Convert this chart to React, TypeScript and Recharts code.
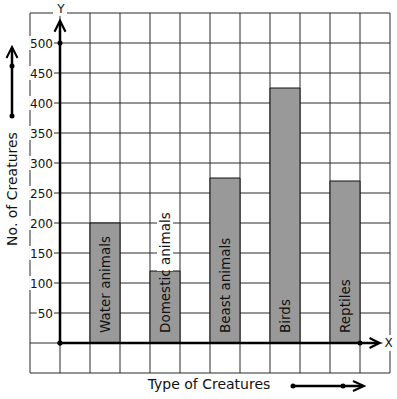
import { BarChart, Bar, XAxis, YAxis, CartesianGrid, LabelList } from "recharts";

const categories = ["Water animals", "Domestic animals", "Beast animals", "Birds", "Reptiles"];
const counts = [200, 120, 275, 425, 270];
const yDomain = [-50, 550];
const yTicks = [-50, 0, 50, 100, 150, 200, 250, 300, 350, 400, 450, 500, 550];
const yLabels = [50, 100, 150, 200, 250, 300, 350, 400, 450, 500];

const data = categories.map((name, i) => ({ name, count: counts[i] }));

const FONT = "DejaVu Sans";
const INK = "#111";
const COLS = 12; // grid is square: 12 x 12 cells

let ctx: CanvasRenderingContext2D | null = null;
function textWidth(s: string, size: number) {
  if (!ctx) ctx = document.createElement("canvas").getContext("2d");
  if (!ctx) return s.length * size * 0.6;
  ctx.font = `${size}px "${FONT}"`;
  return ctx.measureText(s).width;
}

function YTick({ x, y, payload }: any) {
  if (!yLabels.includes(payload.value)) return null;
  const label = String(payload.value);
  const w = textWidth(label, 12);
  const right = x + 23;
  return (
    <g>
      <rect x={right - w - 1} y={y - 7} width={w + 2} height={14} fill="#fff" />
      <text x={right} y={y} dy={4.5} textAnchor="end" fontSize={12} fontFamily={FONT} fill={INK}>
        {label}
      </text>
    </g>
  );
}

function BarText({ x, y, width, height, value }: any) {
  const cx = x + width / 2;
  const bottom = y + height - 10;
  const w = textWidth(String(value), 13.5);
  const top = bottom - w;
  return (
    <g>
      {top < y && <rect x={cx - 8} y={top - 1} width={16} height={y - top + 1} fill="#fff" />}
      <text
        transform={`translate(${cx},${bottom}) rotate(-90)`}
        dy="0.36em"
        fontSize={13.5}
        fontFamily={FONT}
        fill={INK}
      >
        {value}
      </text>
    </g>
  );
}

// y axis side: title, little arrow, and the drawn Y axis with its arrow head
function YOverlay({ viewBox }: any) {
  const left = viewBox.x + viewBox.width;
  const top = viewBox.y;
  const h = viewBox.height;
  const cell = h / (yTicks.length - 1);
  const yPx = (v: number) => top + ((yDomain[1] - v) / (yDomain[1] - yDomain[0])) * h;
  const axisX = left + cell;
  const tx = left - 18;
  const tip = yPx(537);
  return (
    <g>
      <text
        transform={`translate(${tx},${top + h / 2 - 4}) rotate(-90)`}
        textAnchor="middle"
        dy="0.36em"
        fontSize={14}
        fontFamily={FONT}
        fill={INK}
      >
        No. of Creatures
      </text>
      <line x1={tx} y1={top + 103} x2={tx} y2={top + 35} stroke="#000" strokeWidth={2.5} />
      <path
        d={`M${tx - 5.5},${top + 45} L${tx},${top + 34} L${tx + 5.5},${top + 45}`}
        fill="none"
        stroke="#000"
        strokeWidth={2}
      />
      <circle cx={tx} cy={top + 53} r={2.5} fill="#000" />
      <circle cx={tx} cy={top + 103} r={2.5} fill="#000" />

      <line x1={axisX} y1={yPx(0)} x2={axisX} y2={tip + 1} stroke="#000" strokeWidth={2.5} />
      <path
        d={`M${axisX - 5.5},${tip + 11} L${axisX},${tip} L${axisX + 5.5},${tip + 11}`}
        fill="none"
        stroke="#000"
        strokeWidth={2.2}
      />
      <rect x={axisX - 7} y={tip - 19} width={14} height={14} fill="#fff" />
      <text x={axisX + 1} y={tip - 12} dy="0.36em" textAnchor="middle" fontSize={12} fontFamily={FONT} fill={INK}>
        Y
      </text>
      <circle cx={axisX} cy={yPx(500)} r={2.5} fill="#000" />
      <circle cx={axisX} cy={yPx(0)} r={2.5} fill="#000" />
    </g>
  );
}

// x axis side: title, little arrow, and the drawn X axis with its arrow head
function XOverlay({ viewBox }: any) {
  const left = viewBox.x;
  const cell = viewBox.width / COLS;
  const axisY = viewBox.y - cell;
  const ay = viewBox.y + 13;
  const tip = left + 11.65 * cell;
  return (
    <g>
      <line x1={left + cell} y1={axisY} x2={tip - 1} y2={axisY} stroke="#000" strokeWidth={2.5} />
      <path
        d={`M${tip - 10},${axisY - 5} L${tip},${axisY} L${tip - 10},${axisY + 5}`}
        fill="none"
        stroke="#000"
        strokeWidth={2.2}
      />
      <rect x={tip + 3} y={axisY - 8} width={13} height={16} fill="#fff" />
      <text x={tip + 9} y={axisY} dy="0.36em" textAnchor="middle" fontSize={12} fontFamily={FONT} fill={INK}>
        X
      </text>
      <circle cx={left + cell} cy={axisY} r={2.5} fill="#000" />
      <circle cx={left + 11 * cell} cy={axisY} r={2.5} fill="#000" />

      <text x={left + 179} y={viewBox.y + 16} textAnchor="middle" fontSize={14} fontFamily={FONT} fill={INK}>
        Type of Creatures
      </text>
      <line x1={left + 263} y1={ay} x2={left + 333} y2={ay} stroke="#000" strokeWidth={2.5} />
      <path
        d={`M${left + 323},${ay - 5} L${left + 334},${ay} L${left + 323},${ay + 5}`}
        fill="none"
        stroke="#000"
        strokeWidth={2}
      />
      <circle cx={left + 263} cy={ay} r={2.5} fill="#000" />
      <circle cx={left + 313} cy={ay} r={2.5} fill="#000" />
    </g>
  );
}

export default function App() {
  return (
    <div style={{ position: "absolute", left: 0, top: 0, background: "#fff" }}>
      <BarChart width={397} height={399} data={data} margin={{ top: 13, right: 7, bottom: 0, left: 0 }}>
        <CartesianGrid
          stroke="#2a2a2a"
          strokeWidth={1}
          verticalCoordinatesGenerator={({ offset }: any) =>
            Array.from({ length: COLS + 1 }, (_, i) => offset.left + (i * offset.width) / COLS)
          }
        />
        <XAxis
          dataKey="name"
          padding={{ left: 45, right: 15 }}
          height={26}
          axisLine={false}
          tickLine={false}
          tick={false}
          label={<XOverlay />}
        />
        <YAxis
          type="number"
          domain={yDomain}
          ticks={yTicks}
          interval={0}
          width={30}
          axisLine={false}
          tickLine={false}
          tickSize={0}
          tickMargin={0}
          tick={<YTick />}
          label={<YOverlay />}
        />
        <Bar dataKey="count" barSize={30} fill="#999999" stroke="#111" strokeWidth={1} isAnimationActive={false}>
          <LabelList dataKey="name" content={<BarText />} />
        </Bar>
      </BarChart>
    </div>
  );
}
